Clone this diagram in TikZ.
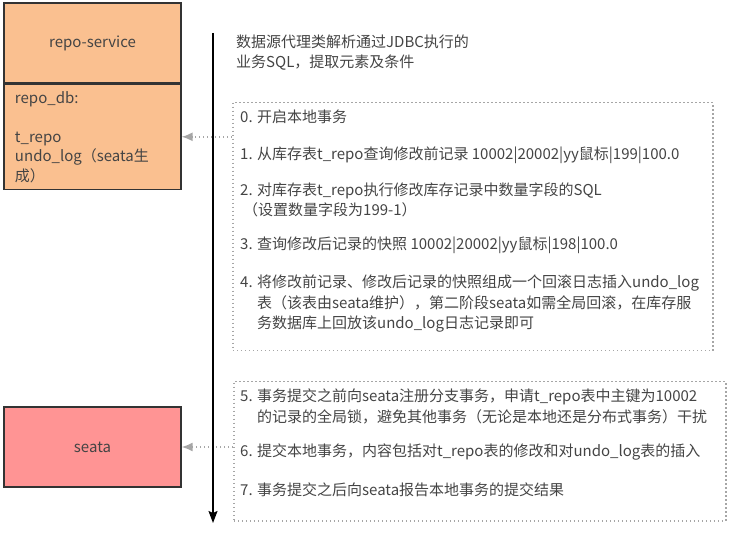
\documentclass[tikz,border=0pt]{standalone}
\usepackage{fontspec}
\setmainfont{Noto Sans CJK SC}
\usetikzlibrary{arrows.meta,positioning}
\definecolor{repoorange}{HTML}{FAC090}
\definecolor{seatared}{HTML}{FF9494}
\definecolor{txtgray}{HTML}{444444}
\newcommand\gap{\phantom{0. }}

\begin{document}
\begin{tikzpicture}[x=1pt,y=-1pt]
  \tikzset{block/.style={shape=rectangle,draw=black!80,line width=1.3pt,minimum width=177pt,inner sep=0pt,text=txtgray,font=\fontsize{15}{19.5}\selectfont}};
  \tikzset{dotbox/.style={shape=rectangle,draw=black!35,line width=1.5pt,dash pattern=on 1.5pt off 2.5pt,anchor=north west}};
  \tikzset{item/.style={anchor=west,align=left,inner sep=0pt,text=txtgray,font=\fontsize{15}{20.5}\selectfont}};
  \tikzset{hint/.style={draw=black!35,line width=1.5pt,dash pattern=on 1.5pt off 2.5pt,-{Latex[length=11pt,width=9pt]}}};
  \useasboundingbox (0,0) rectangle (742,534);
  % services
  \node[block,fill=repoorange,minimum height=80pt](svc) at (92.5,43){repo-service};
  \node[block,fill=repoorange,anchor=north,minimum height=105pt,text width=155pt,align=left](db) at (svc.south)
    {repo\_db:\\[19.5pt]t\_repo\\undo\_log（seata生\\成）};
  \node[block,fill=seatared,minimum height=80pt](seata) at (92.5,447){seata};
  % steps
  \node[item](parse) at (236,52.5){数据源代理类解析通过JDBC执行的\\业务SQL，提取元素及条件};
  \node[dotbox,minimum width=480pt,minimum height=248pt](steps) at (232,102){};
  \node[dotbox,minimum width=492pt,minimum height=139pt](commit) at (233,381){};
  \node[item](s0) at (240,117){0. 开启本地事务};
  \node[item](s1) at (240,155){1. 从库存表t\_repo查询修改前记录 10002|20002|yy鼠标|199|100.0};
  \node[item](s2) at (240,200){2. 对库存表t\_repo执行修改库存记录中数量字段的SQL\\\hspace*{3pt}（设置数量字段为199-1）};
  \node[item](s3) at (240,245){3. 查询修改后记录的快照 10002|20002|yy鼠标|198|100.0};
  \node[item](s4) at (240,304){4. 将修改前记录、修改后记录的快照组成一个回滚日志插入undo\_log\\\gap 表（该表由seata维护），第二阶段seata如需全局回滚，在库存服\\\gap 务数据库上回放该undo\_log日志记录即可};
  \node[item](s5) at (240,406.5){5. 事务提交之前向seata注册分支事务，申请t\_repo表中主键为10002\\\gap 的记录的全局锁，避免其他事务（无论是本地还是分布式事务）干扰};
  \node[item](s6) at (240,452){6. 提交本地事务，内容包括对t\_repo表的修改和对undo\_log表的插入};
  \node[item](s7) at (240,490){7. 事务提交之后向seata报告本地事务的提交结果};
  % flow
  \draw[hint] (steps.west |- db.east) -- (db.east);
  \draw[hint] (commit.west |- seata.east) -- (seata.east);
  \coordinate (flowtop) at (213,33);
  \coordinate (flowend) at (213,523);
  \draw[line width=1.5pt,-{Stealth[length=12pt,width=9pt,inset=2pt]}] (flowtop) -- (flowend);
\end{tikzpicture}
\end{document}
